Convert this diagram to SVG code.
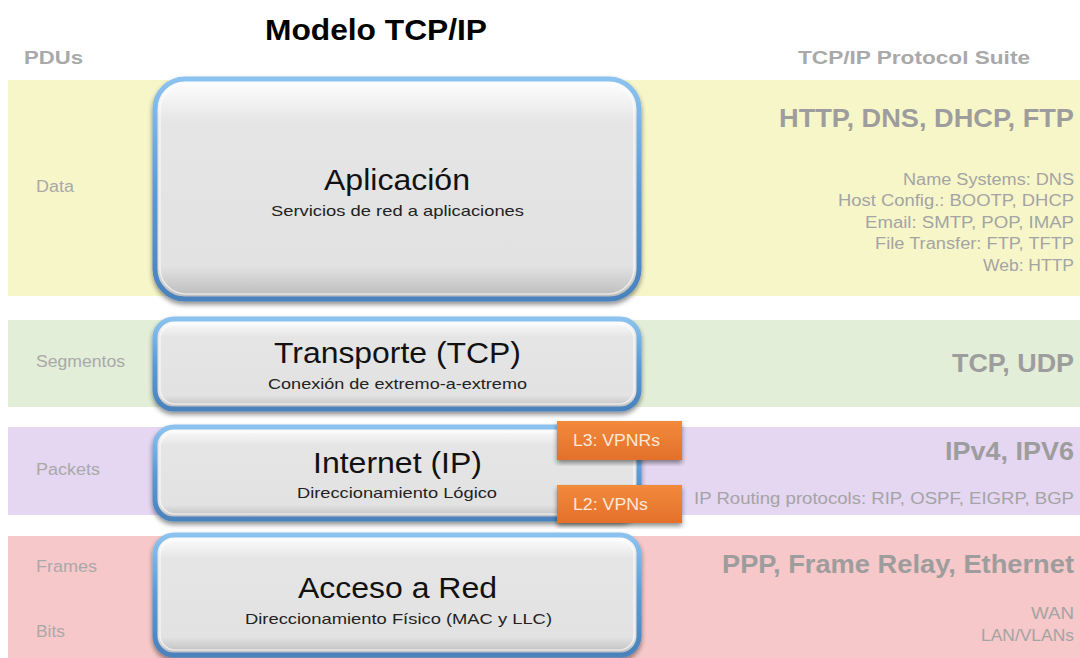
<svg xmlns="http://www.w3.org/2000/svg" width="1080" height="658" viewBox="0 0 1080 658">
<defs>
<linearGradient id="fillG" x1="0" y1="0" x2="0" y2="1">
<stop offset="0" stop-color="#ffffff"/>
<stop offset="0.1" stop-color="#f2f2f2"/>
<stop offset="0.2" stop-color="#e5e5e5"/>
<stop offset="0.85" stop-color="#e2e2e2"/>
<stop offset="1" stop-color="#b9b9b9"/>
</linearGradient>
<linearGradient id="blueG" x1="0" y1="0" x2="0" y2="1">
<stop offset="0" stop-color="#8cc2ef"/>
<stop offset="0.5" stop-color="#5b9bd5"/>
<stop offset="1" stop-color="#4a82bd"/>
</linearGradient>
<linearGradient id="orG" x1="0" y1="0" x2="0" y2="1">
<stop offset="0" stop-color="#f28a3c"/>
<stop offset="1" stop-color="#e4702a"/>
</linearGradient>
<filter id="sh" x="-5%" y="-10%" width="110%" height="125%">
<feGaussianBlur in="SourceAlpha" stdDeviation="2.5"/>
<feOffset dx="0" dy="3" result="b"/>
<feComponentTransfer><feFuncA type="linear" slope="0.45"/></feComponentTransfer>
<feMerge><feMergeNode/><feMergeNode in="SourceGraphic"/></feMerge>
</filter>
</defs>
<style>
.band{stroke:none}
.box{fill:url(#fillG);stroke:url(#blueG);stroke-width:5}
.inner{fill:none;stroke:#ffffff;stroke-opacity:0.6;stroke-width:1.5}
.t{font-family:"Liberation Sans",Arial,sans-serif;fill:#111}
.title{font-family:"Liberation Sans",Arial,sans-serif;font-weight:bold;font-size:30px;fill:#000}
.hdr{font-family:"Liberation Sans",Arial,sans-serif;font-weight:bold;font-size:19px;fill:#a9a9a9}
.pdu{font-family:"Liberation Sans",Arial,sans-serif;font-size:16px;fill:#a9a9a9}
.big{font-family:"Liberation Sans",Arial,sans-serif;font-weight:bold;font-size:26px;fill:#9d9d9d}
.lst{font-family:"Liberation Sans",Arial,sans-serif;font-size:16px;fill:#a4a4a4}
.lay{font-family:"Liberation Sans",Arial,sans-serif;font-size:29px;fill:#111}
.sub{font-family:"Liberation Sans",Arial,sans-serif;font-size:15px;fill:#222}
.or{fill:url(#orG)}
.ort{font-family:"Liberation Sans",Arial,sans-serif;font-size:16px;fill:#fde9d9}
</style>
<rect width="1080" height="658" fill="#ffffff"/>
<g id="bands">
<rect class="band" x="8" y="80" width="1072" height="216" fill="#f7f6c9"/>
<rect class="band" x="8" y="320" width="1072" height="87" fill="#e2eed8"/>
<rect class="band" x="8" y="427" width="1072" height="88" fill="#e5d6f1"/>
<rect class="band" x="8" y="536" width="1072" height="122" fill="#f6c8c9"/>
</g>
<g id="headers">
<text class="title" x="265" y="40" textLength="222" lengthAdjust="spacingAndGlyphs">Modelo TCP/IP</text>
<text class="hdr" x="24" y="64" textLength="59" lengthAdjust="spacingAndGlyphs">PDUs</text>
<text class="hdr" x="798" y="64" textLength="232" lengthAdjust="spacingAndGlyphs">TCP/IP Protocol Suite</text>
</g>
<g id="pdus">
<text class="pdu" x="36" y="192" textLength="38" lengthAdjust="spacingAndGlyphs">Data</text>
<text class="pdu" x="36" y="367" textLength="89" lengthAdjust="spacingAndGlyphs">Segmentos</text>
<text class="pdu" x="36" y="475" textLength="64" lengthAdjust="spacingAndGlyphs">Packets</text>
<text class="pdu" x="36" y="572" textLength="61" lengthAdjust="spacingAndGlyphs">Frames</text>
<text class="pdu" x="36" y="637" textLength="29" lengthAdjust="spacingAndGlyphs">Bits</text>
</g>
<g id="node-aplicacion">
<rect class="box" x="155" y="79" width="484" height="220" rx="30" filter="url(#sh)"/>
<rect class="inner" x="160" y="84" width="474" height="210" rx="26"/>
<text class="lay" x="324" y="190" textLength="146" lengthAdjust="spacingAndGlyphs">Aplicación</text>
<text class="sub" x="271" y="216" textLength="253" lengthAdjust="spacingAndGlyphs">Servicios de red a aplicaciones</text>
</g>
<g id="node-transporte">
<rect class="box" x="155" y="319" width="484" height="90" rx="19" filter="url(#sh)"/>
<rect class="inner" x="160" y="324" width="474" height="80" rx="15"/>
<text class="lay" x="274" y="363" textLength="247" lengthAdjust="spacingAndGlyphs">Transporte (TCP)</text>
<text class="sub" x="268" y="389" textLength="259" lengthAdjust="spacingAndGlyphs">Conexión de extremo-a-extremo</text>
</g>
<g id="node-internet">
<rect class="box" x="155" y="427" width="484" height="92" rx="19" filter="url(#sh)"/>
<rect class="inner" x="160" y="432" width="474" height="82" rx="15"/>
<text class="lay" x="313" y="473" textLength="169" lengthAdjust="spacingAndGlyphs">Internet (IP)</text>
<text class="sub" x="297" y="498" textLength="200" lengthAdjust="spacingAndGlyphs">Direccionamiento Lógico</text>
</g>
<g id="node-acceso">
<rect class="box" x="155" y="535" width="484" height="120" rx="19" filter="url(#sh)"/>
<rect class="inner" x="160" y="540" width="474" height="110" rx="15"/>
<text class="lay" x="298" y="598" textLength="199" lengthAdjust="spacingAndGlyphs">Acceso a Red</text>
<text class="sub" x="245" y="624" textLength="307" lengthAdjust="spacingAndGlyphs">Direccionamiento Físico (MAC y LLC)</text>
</g>
<g id="node-l3">
<rect class="or" x="557" y="421" width="125" height="39" filter="url(#sh)"/>
<text class="ort" x="573" y="446" textLength="87" lengthAdjust="spacingAndGlyphs">L3: VPNRs</text>
</g>
<g id="node-l2">
<rect class="or" x="557" y="485" width="125" height="38" filter="url(#sh)"/>
<text class="ort" x="573" y="510" textLength="75" lengthAdjust="spacingAndGlyphs">L2: VPNs</text>
</g>
<g id="protocols">
<text class="big" x="779" y="127" textLength="295" lengthAdjust="spacingAndGlyphs">HTTP, DNS, DHCP, FTP</text>
<text class="lst" x="903" y="185" textLength="171" lengthAdjust="spacingAndGlyphs">Name Systems: DNS</text>
<text class="lst" x="838" y="206" textLength="236" lengthAdjust="spacingAndGlyphs">Host Config.: BOOTP, DHCP</text>
<text class="lst" x="865" y="228" textLength="209" lengthAdjust="spacingAndGlyphs">Email: SMTP, POP, IMAP</text>
<text class="lst" x="875" y="249" textLength="199" lengthAdjust="spacingAndGlyphs">File Transfer: FTP, TFTP</text>
<text class="lst" x="983" y="271" textLength="91" lengthAdjust="spacingAndGlyphs">Web: HTTP</text>
<text class="big" x="952" y="372" textLength="122" lengthAdjust="spacingAndGlyphs">TCP, UDP</text>
<text class="big" x="945" y="460" textLength="129" lengthAdjust="spacingAndGlyphs">IPv4, IPV6</text>
<text class="lst" x="694" y="504" textLength="380" lengthAdjust="spacingAndGlyphs">IP Routing protocols: RIP, OSPF, EIGRP, BGP</text>
<text class="big" x="722" y="573" textLength="352" lengthAdjust="spacingAndGlyphs">PPP, Frame Relay, Ethernet</text>
<text class="lst" x="1031" y="619" textLength="43" lengthAdjust="spacingAndGlyphs">WAN</text>
<text class="lst" x="981" y="641" textLength="93" lengthAdjust="spacingAndGlyphs">LAN/VLANs</text>
</g>
</svg>
